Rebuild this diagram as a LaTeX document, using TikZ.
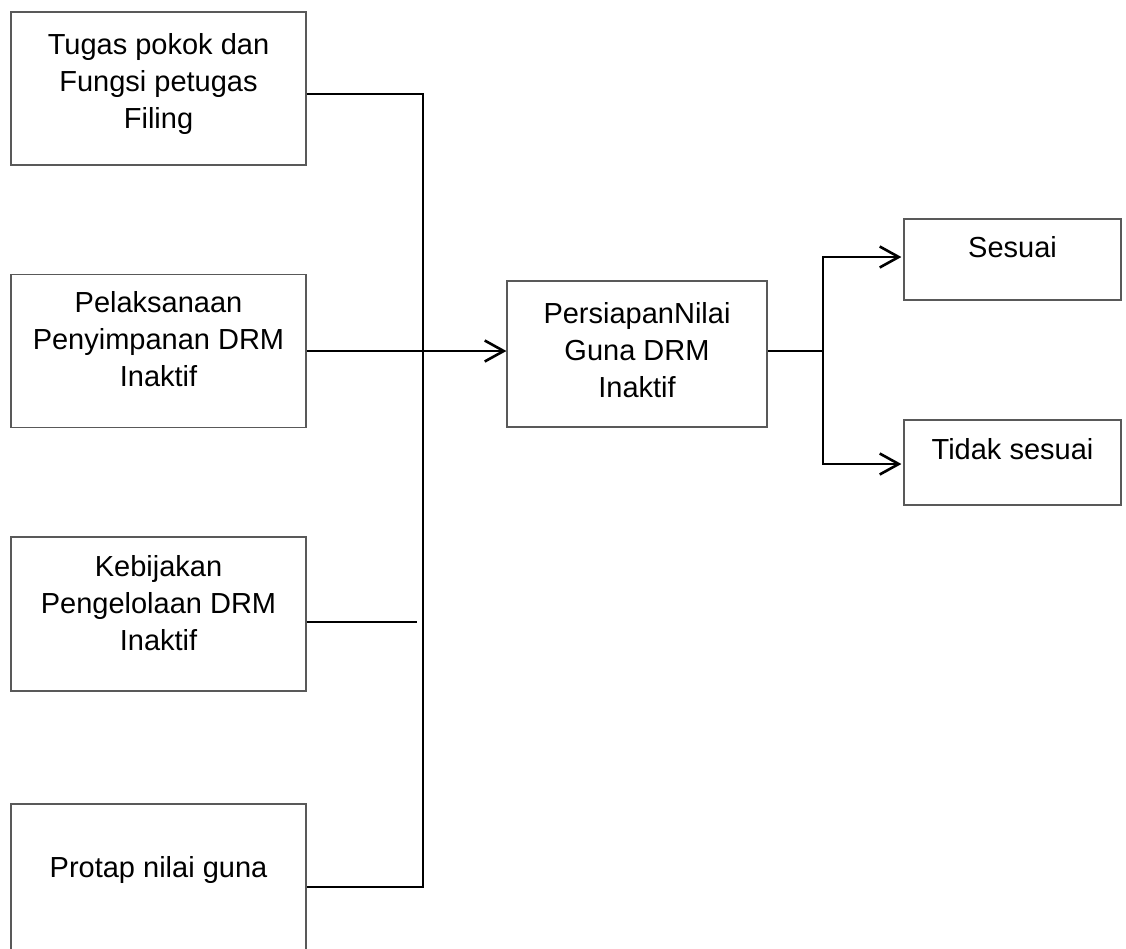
\documentclass[tikz,border=0pt]{standalone}
\usepackage{fontspec}
\setmainfont{Liberation Sans}
\usetikzlibrary{arrows.meta}

\begin{document}
\begin{tikzpicture}[x=1pt, y=-1pt,
  box/.style={draw=black!65, line width=1.2pt, minimum width=295pt, inner sep=0pt},
  txt/.style={align=center, inner sep=0pt, font=\fontsize{29}{37}\selectfont},
  conn/.style={line width=2.6pt},
  arr/.style={conn, -{Straight Barb[length=19pt, width=21pt]}}]
  \useasboundingbox (0,0) rectangle (1126,948);

  % inputs
  \node[box, minimum height=153pt] (tugas) at (158.5,88.5) {};
  \node[txt] (tugas-t) at ([yshift=5pt]tugas.center) {Tugas pokok dan\\Fungsi petugas\\Filing};
  \node[box, minimum height=153pt] (pelaksanaan) at (158.5,351) {};
  \node[txt] (pelaksanaan-t) at ([yshift=12pt]pelaksanaan.center) {Pelaksanaan\\Penyimpanan DRM\\Inaktif};
  \node[box, minimum height=154pt] (kebijakan) at (158.5,614) {};
  \node[txt] (kebijakan-t) at ([yshift=11pt]kebijakan.center) {Kebijakan\\Pengelolaan DRM\\Inaktif};
  \node[box, minimum height=166pt] (protap) at (158.5,887) {};
  \node[txt] (protap-t) at ([yshift=17pt]protap.center) {Protap nilai guna};

  % middle and outputs
  \node[box, minimum width=260pt, minimum height=146pt] (persiapan) at (637,354) {};
  \node[txt] (persiapan-t) at ([yshift=4pt]persiapan.center) {PersiapanNilai\\Guna DRM\\Inaktif};
  \node[box, minimum width=217pt, minimum height=81pt] (sesuai) at (1012.5,259.5) {};
  \node[txt] (sesuai-t) at ([yshift=12.5pt]sesuai.center) {Sesuai};
  \node[box, minimum width=217pt, minimum height=85pt] (tidak) at (1012.5,462.5) {};
  \node[txt] (tidak-t) at ([yshift=13.5pt]tidak.center) {Tidak sesuai};

  \coordinate (bustop) at (423,94);
  \coordinate (busbot) at (423,887);
  \coordinate (kebend) at (417,622);
  \coordinate (split) at (823,351);

  \draw[conn] (tugas.east |- bustop) -- (bustop) -- (busbot) -- (protap.east);
  \draw[conn] (kebijakan.east |- kebend) -- (kebend);
  \draw[arr] (pelaksanaan.east) -- (pelaksanaan.east -| persiapan.west);
  \draw[conn] (persiapan.east |- split) -- (split);
  \draw[arr, shorten >=2pt] (split) |- ([yshift=2.5pt]sesuai.west);
  \draw[arr, shorten >=2pt] (split) |- ([yshift=-1.5pt]tidak.west);
\end{tikzpicture}
\end{document}
